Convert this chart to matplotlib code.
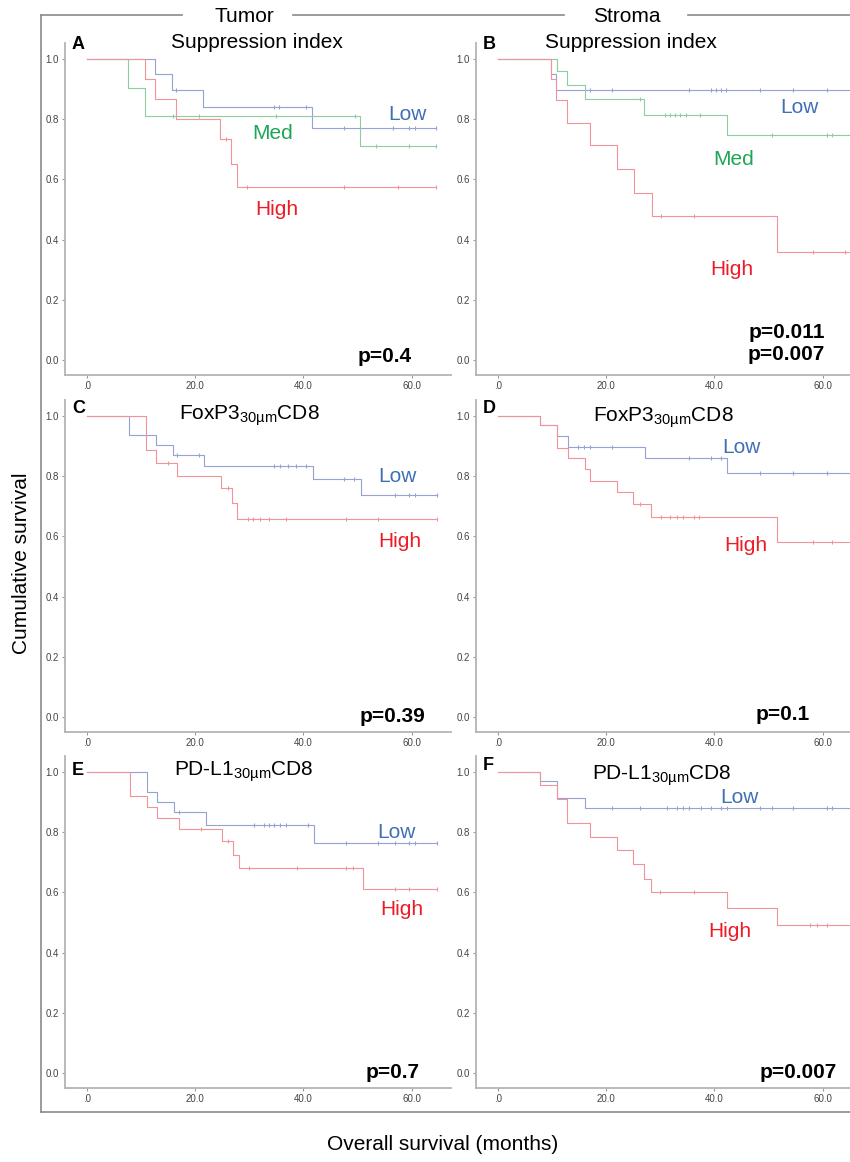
# Kaplan-Meier curves, tumor vs stroma, three markers (6 panels)
import numpy as np
import matplotlib
matplotlib.use('Agg')
import matplotlib.pyplot as plt
from matplotlib.lines import Line2D

plt.rcParams['font.family'] = ['Liberation Sans', 'DejaVu Sans']
plt.rcParams['mathtext.default'] = 'regular'

# step times (months), survival after each step, censor times
A_LOW_T = [12.6, 15.7, 21.5, 41.6]
A_LOW_S = [0.949, 0.897, 0.839, 0.770]
A_LOW_C = [16.4, 34.6, 35.4, 40.5, 47.5, 56.5, 59.5, 60.7, 64.6]
A_MED_T = [7.6, 10.7, 50.5]
A_MED_S = [0.905, 0.809, 0.710]
A_MED_C = [15.8, 20.6, 35.0, 49.6, 53.5, 59.5, 64.6]
A_HIGH_T = [10.7, 12.6, 16.4, 24.6, 26.6, 27.8]
A_HIGH_S = [0.933, 0.867, 0.800, 0.734, 0.652, 0.574]
A_HIGH_C = [25.7, 29.6, 47.5, 57.5, 64.6]

B_LOW_T = [9.7, 10.7]
B_LOW_S = [0.951, 0.897]
B_LOW_C = [16.9, 21.1, 35.3, 39.4, 40.3, 41.3, 42.2, 48.5, 54.5, 60.8, 65.9]
B_MED_T = [10.9, 12.8, 16.0, 27.0, 42.4]
B_MED_S = [0.959, 0.912, 0.867, 0.814, 0.747]
B_MED_C = [26.2, 30.9, 31.8, 32.7, 33.7, 34.7, 37.4, 50.6, 60.8, 61.7, 65.9]
B_HIGH_T = [9.7, 10.7, 12.8, 16.9, 21.9, 25.2, 28.4, 51.5]
B_HIGH_S = [0.934, 0.863, 0.788, 0.714, 0.634, 0.555, 0.477, 0.357]
B_HIGH_C = [30.2, 36.2, 58.2, 64.2, 65.9]

C_LOW_T = [7.8, 12.7, 15.8, 21.7, 41.7, 50.7]
C_LOW_S = [0.936, 0.904, 0.871, 0.834, 0.791, 0.736]
C_LOW_C = [16.7, 20.7, 34.6, 35.6, 37.1, 38.6, 40.5, 47.6, 49.4, 56.9, 59.6, 60.6, 64.7]
C_HIGH_T = [10.9, 12.7, 16.7, 24.7, 26.8, 27.8]
C_HIGH_S = [0.886, 0.843, 0.802, 0.760, 0.710, 0.658]
C_HIGH_C = [14.9, 26.0, 29.7, 30.6, 31.9, 33.7, 36.8, 47.9, 53.8, 64.7]

D_LOW_T = [7.7, 10.9, 12.9, 27.1, 42.4]
D_LOW_S = [0.970, 0.932, 0.898, 0.859, 0.811]
D_LOW_C = [14.8, 15.8, 16.9, 21.1, 35.3, 39.4, 41.3, 48.5, 54.5, 60.8, 65.9]
D_HIGH_T = [7.7, 10.9, 12.9, 16.0, 16.9, 21.9, 25.0, 28.2, 51.5]
D_HIGH_S = [0.970, 0.893, 0.860, 0.823, 0.783, 0.746, 0.707, 0.664, 0.581]
D_HIGH_C = [26.2, 30.2, 31.8, 33.1, 34.2, 36.2, 37.2, 58.2, 61.7, 65.9]

E_LOW_T = [11.0, 13.0, 16.1, 22.0, 41.9]
E_LOW_S = [0.932, 0.899, 0.866, 0.824, 0.763]
E_LOW_C = [16.9, 30.9, 32.8, 33.7, 34.6, 35.6, 36.8, 40.8, 47.8, 53.8, 56.9, 59.6, 60.6, 64.7]
E_HIGH_T = [7.9, 11.0, 13.0, 16.9, 24.9, 26.9, 28.0, 51.0]
E_HIGH_S = [0.921, 0.884, 0.847, 0.810, 0.769, 0.724, 0.680, 0.612]
E_HIGH_C = [21.0, 26.0, 30.0, 38.9, 47.9, 49.1, 56.9, 59.6, 64.7]

F_LOW_T = [7.7, 10.9, 16.0]
F_LOW_S = [0.971, 0.912, 0.879]
F_LOW_C = [21.1, 26.2, 31.2, 33.1, 34.2, 35.3, 37.5, 39.4, 41.3, 42.4, 48.5, 50.6,
           54.5, 60.8, 61.7, 65.9]
F_HIGH_T = [7.7, 10.9, 12.8, 16.9, 21.9, 25.0, 27.0, 28.2, 42.4, 51.5]
F_HIGH_S = [0.958, 0.910, 0.829, 0.784, 0.740, 0.693, 0.646, 0.601, 0.547, 0.493]
F_HIGH_C = [30.0, 36.2, 57.6, 58.9, 60.8, 65.9]

LETTERS = ['A', 'B', 'C', 'D', 'E', 'F']
TITLES = ['Suppression index', 'Suppression index',
          'FoxP3$_{30µm}$CD8', 'FoxP3$_{30µm}$CD8',
          'PD-L1$_{30µm}$CD8', 'PD-L1$_{30µm}$CD8']
PVALUES = ['p=0.4', 'p=0.011\np=0.007', 'p=0.39', 'p=0.1', 'p=0.7', 'p=0.007']
XTICKS = [0, 20, 40, 60]
XTICKLABELS = ['.0', '20.0', '40.0', '60.0']
YTICKS = [0.0, 0.2, 0.4, 0.6, 0.8, 1.0]
YTICKLABELS = ['0.0', '0.2', '0.4', '0.6', '0.8', '1.0']

LINE_COL = {'Low': '#95a2d4', 'Med': '#8fcc9f', 'High': '#f29299'}
TEXT_COL = {'Low': '#3f6fb5', 'Med': '#1fa558', 'High': '#ec1c26'}

W, H = 850, 1162
AX_W, AX_H = 386, 332


def fxy(x, y):
    return x / W, 1 - y / H


def km(ax, times, surv, cens, color):
    times = np.array(times)
    surv = np.array(surv)
    cens = np.array(cens)
    end = cens.max()
    t = np.concatenate([[0.0], times, [end]])
    s = np.concatenate([[1.0], surv, [surv[-1]]])
    ax.step(t, s, where='post', color=color, lw=0.8)
    idx = np.searchsorted(times, cens, side='right')
    cs = np.concatenate([[1.0], surv])[idx]
    ax.plot(cens, cs, ls='none', marker='|', ms=3, mew=0.8, color=color)


def make_axes(fig, left, top):
    ax = fig.add_axes([left / W, 1 - (top + AX_H) / H, AX_W / W, AX_H / H])
    ax.set_xlim(-4.1, 67.3)
    ax.set_ylim(-0.05, 1.053)
    for side in ['top', 'right']:
        ax.spines[side].set_visible(False)
    for side in ['left', 'bottom']:
        ax.spines[side].set_color('#b4b4b4')
        ax.spines[side].set_linewidth(1.3)
    ax.set_xticks(XTICKS)
    ax.set_xticklabels(XTICKLABELS)
    ax.set_yticks(YTICKS)
    ax.set_yticklabels(YTICKLABELS)
    ax.tick_params(length=2.5, width=0.8, color='#999999', labelsize=7,
                   labelcolor='#444444', pad=2)
    return ax


fig = plt.figure(figsize=(W / 100, H / 100), dpi=100)

# (left px, top px) of each panel's axes
lefts = [65, 476, 65, 476, 65, 476]
tops = [43, 43, 400, 400, 756, 756]

curves = [
    [('Low', A_LOW_T, A_LOW_S, A_LOW_C), ('Med', A_MED_T, A_MED_S, A_MED_C),
     ('High', A_HIGH_T, A_HIGH_S, A_HIGH_C)],
    [('Low', B_LOW_T, B_LOW_S, B_LOW_C), ('Med', B_MED_T, B_MED_S, B_MED_C),
     ('High', B_HIGH_T, B_HIGH_S, B_HIGH_C)],
    [('Low', C_LOW_T, C_LOW_S, C_LOW_C), ('High', C_HIGH_T, C_HIGH_S, C_HIGH_C)],
    [('Low', D_LOW_T, D_LOW_S, D_LOW_C), ('High', D_HIGH_T, D_HIGH_S, D_HIGH_C)],
    [('Low', E_LOW_T, E_LOW_S, E_LOW_C), ('High', E_HIGH_T, E_HIGH_S, E_HIGH_C)],
    [('Low', F_LOW_T, F_LOW_S, F_LOW_C), ('High', F_HIGH_T, F_HIGH_S, F_HIGH_C)],
]

# group label baselines (px) per panel
label_pos = [
    {'Low': (407, 120), 'Med': (273, 139), 'High': (277, 215)},
    {'Low': (799, 113), 'Med': (734, 165), 'High': (732, 275)},
    {'Low': (397, 482), 'High': (400, 547)},
    {'Low': (741, 453), 'High': (746, 551)},
    {'Low': (396, 838), 'High': (402, 915)},
    {'Low': (739, 803), 'High': (730, 937)},
]
title_pos = [(257, 48), (631, 48), (249, 420), (663, 422), (244, 776), (662, 780)]
letter_pos = [(72, 49), (483, 49), (72, 413), (483, 413), (72, 775), (483, 770)]
p_pos = [(412, 362), (825, 360), (425, 722), (810, 720), (420, 1078), (837, 1078)]

for i in range(6):
    ax = make_axes(fig, lefts[i], tops[i])
    for name, t, s, c in curves[i]:
        km(ax, t, s, c, LINE_COL[name])
        x, y = label_pos[i][name]
        fig.text(*fxy(x, y), name, color=TEXT_COL[name], fontsize=15,
                 ha='center', va='baseline')
    fig.text(*fxy(*title_pos[i]), TITLES[i], fontsize=15, ha='center',
             va='baseline')
    fig.text(*fxy(*letter_pos[i]), LETTERS[i], fontsize=13, fontweight='bold',
             ha='left', va='baseline')
    fig.text(*fxy(*p_pos[i]), PVALUES[i], fontsize=15, fontweight='bold',
             ha='right', va='baseline', linespacing=1.2)

# outer frame with the Tumor / Stroma headers breaking the top line
frame = '#8a8a8a'
for (x0, x1) in [(41, 182), (293, 564), (688, 850)]:
    fig.add_artist(Line2D([x0 / W, x1 / W], [1 - 15 / H] * 2, color=frame, lw=1.2))
fig.add_artist(Line2D([41 / W, 41 / W], [1 - 15 / H, 1 - 1112 / H], color=frame, lw=1.2))
fig.add_artist(Line2D([41 / W, 850 / W], [1 - 1112 / H] * 2, color=frame, lw=1.2))
fig.text(*fxy(244, 16), 'Tumor', fontsize=15, ha='center', va='center')
fig.text(*fxy(627, 16), 'Stroma', fontsize=15, ha='center', va='center')

fig.text(*fxy(22, 563), 'Cumulative survival', fontsize=15, rotation=90,
         ha='center', va='center')
fig.text(*fxy(443, 1145), 'Overall survival (months)', fontsize=15,
         ha='center', va='center')

fig.savefig('out.png', dpi=100)
